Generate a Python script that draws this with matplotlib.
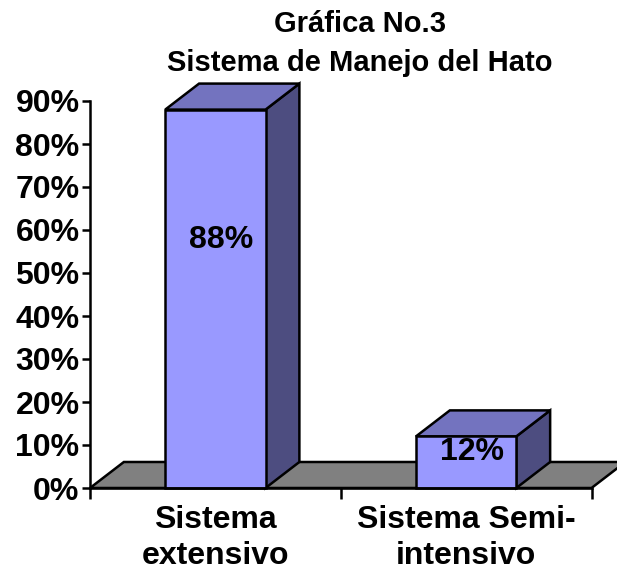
import numpy as np
import matplotlib.pyplot as plt
from matplotlib.patches import Polygon

plt.rcParams['font.family'] = ['Liberation Sans', 'DejaVu Sans']
plt.rcParams['font.weight'] = 'bold'

# data
categories = ['Sistema\nextensivo', 'Sistema Semi-\nintensivo']
values = [0.88, 0.12]
value_labels = ['88%', '12%']
title = 'Gráfica No.3\nSistema de Manejo del Hato'

# layout / style
front_color = '#9999FF'
top_color = '#7373BF'
side_color = '#4D4D80'
floor_color = '#808080'
bar_w = 0.4
dx, dy = 0.135, 0.0605          # 3d depth offset in data units
label_y = [0.577, 0.084]        # where the value labels sit
label_dx = 0.024

fig = plt.figure(figsize=(6.17, 5.75), dpi=100)
ax = fig.add_axes([90 / 617, 87 / 575, 527 / 617, 408.5 / 575])
ax.set_xlim(-0.5, 1.6016)
ax.set_ylim(0, 0.95)

x = np.arange(len(values))

# floor
floor = Polygon([(-0.5, 0), (1.5, 0), (1.5 + dx, dy), (-0.5 + dx, dy)],
                closed=True, facecolor=floor_color, edgecolor='black',
                linewidth=1.8, clip_on=False, zorder=1)
ax.add_patch(floor)

for xi, v in zip(x, values):
    x0, x1 = xi - bar_w / 2, xi + bar_w / 2
    side = Polygon([(x1, 0), (x1 + dx, dy), (x1 + dx, v + dy), (x1, v)],
                   closed=True, facecolor=side_color, edgecolor='black',
                   linewidth=1.8, clip_on=False, zorder=2)
    top = Polygon([(x0, v), (x1, v), (x1 + dx, v + dy), (x0 + dx, v + dy)],
                  closed=True, facecolor=top_color, edgecolor='black',
                  linewidth=1.8, clip_on=False, zorder=2)
    ax.add_patch(side)
    ax.add_patch(top)

ax.bar(x, values, width=bar_w, color=front_color, edgecolor='black',
       linewidth=1.8, zorder=3, clip_on=False)

for xi, ly, lab in zip(x, label_y, value_labels):
    ax.text(xi + label_dx, ly, lab, ha='center', va='center', fontsize=23,
            fontweight='bold', zorder=4)

# axes styling
for s in ['top', 'right']:
    ax.spines[s].set_visible(False)
ax.spines['left'].set_bounds(0, 0.9)
ax.spines['bottom'].set_bounds(-0.5, 1.5)
ax.spines['left'].set_linewidth(1.8)
ax.spines['bottom'].set_linewidth(1.8)
ax.spines['bottom'].set_zorder(5)

ax.set_yticks(np.arange(0, 0.91, 0.1))
ax.set_yticklabels([f'{int(round(t * 100))}%' for t in np.arange(0, 0.91, 0.1)])
ax.tick_params(axis='y', direction='out', length=6, width=1.8, pad=1.5,
               labelsize=23)

ax.set_xticks([-0.5, 0.5, 1.5])
ax.set_xticklabels(['', '', ''])
ax.set_xticks(x, minor=True)
ax.set_xticklabels(categories, minor=True, fontsize=23, fontweight='bold',
                   linespacing=1.28)
ax.tick_params(axis='x', which='major', direction='out', length=8, width=1.8)
ax.tick_params(axis='x', which='minor', length=0, pad=12)
for t in ax.get_yticklabels():
    t.set_fontweight('bold')

fig.text(360 / 617, 1 - 10 / 575, title, ha='center', va='top', fontsize=21,
         fontweight='bold', linespacing=1.5)

fig.savefig('out.png', dpi=100)
